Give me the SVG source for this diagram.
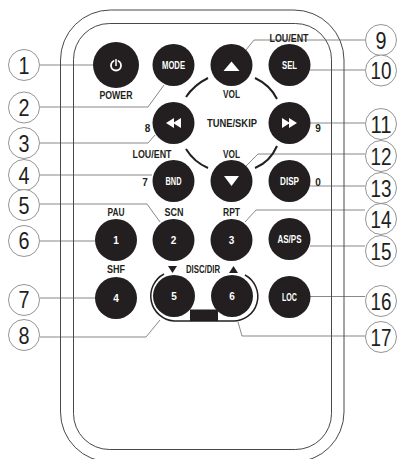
<svg xmlns="http://www.w3.org/2000/svg" width="397" height="459" viewBox="0 0 397 459">
<style>
.b{fill:#231f20}
.w{fill:#fff;font-family:"Liberation Sans",Arial,sans-serif;font-weight:700;font-size:10px;text-anchor:middle}
.t{fill:#231f20;font-family:"Liberation Sans",Arial,sans-serif;font-weight:700;font-size:10px;text-anchor:middle}
.n{fill:#231f20;font-family:"Liberation Sans",Arial,sans-serif;font-size:24px;text-anchor:middle}
.c{fill:#fff;stroke:#666;stroke-width:.7}
.l{fill:none;stroke:#555;stroke-width:.7}
.o{fill:none;stroke:#333;stroke-width:.9}
.a{fill:none;stroke:#231f20;stroke-width:2}
</style>
<g id="body">
<rect class="o" x="60.500" y="10" width="283.500" height="452" rx="50"/>
<rect class="o" x="73.500" y="23.500" width="258" height="426" rx="36"/>
</g>
<g id="connectors">
<path class="l" d="M40 65H93"/>
<path class="l" d="M40 107H148L164 85"/>
<path class="l" d="M40 143H148L155 135"/>
<path class="l" d="M40 175H152"/>
<path class="l" d="M40 204H147L160 222"/>
<path class="l" d="M40 241H95"/>
<path class="l" d="M40 298H95"/>
<path class="l" d="M40 337H146L160 320"/>
<path class="l" d="M365 40H254L246 50"/>
<path class="l" d="M365 70H310"/>
<path class="l" d="M365 123H310"/>
<path class="l" d="M365 154H258L246 166"/>
<path class="l" d="M365 186H310"/>
<path class="l" d="M365 210H256L245 222"/>
<path class="l" d="M365 246H310"/>
<path class="l" d="M365 296.500H310"/>
<path class="l" d="M365 336H242L238 322"/>
</g>
<g id="dpad-arcs">
<path class="a" d="M186 97Q194 85 208 78"/>
<path class="a" d="M255 78Q270 85 277 99"/>
<path class="a" d="M186 149Q194 162 208 168"/>
<path class="a" d="M277 146Q270 162 255 168"/>
</g>
<g id="disc-bar">
<path class="b" d="M190 309.500H218V321H190Z"/>
<path fill="none" stroke="#231f20" stroke-width="1.500" d="M164 274A25 25 0 0 0 174 321H232A24.500 24.500 0 0 0 245 275"/>
</g>
<g id="btn-power"><circle class="b" cx="116" cy="65" r="23"/><circle cx="116" cy="65.500" r="5" fill="none" stroke="#fff" stroke-width="1.800"/><path d="M116 59V66" stroke="#231f20" stroke-width="3.500"/><path d="M116 59V66" stroke="#fff" stroke-width="1.500"/></g>
<g id="btn-mode"><circle class="b" cx="173.500" cy="65" r="21"/><text class="w" x="173.500" y="69" textLength="23" lengthAdjust="spacingAndGlyphs">MODE</text></g>
<g id="btn-up"><circle class="b" cx="231.500" cy="65" r="21"/><path fill="#fff" d="M223.500 71L231.500 61.500L239.500 71Z"/></g>
<g id="btn-sel"><circle class="b" cx="289.500" cy="65" r="21"/><text class="w" x="289.500" y="69" textLength="15" lengthAdjust="spacingAndGlyphs">SEL</text></g>
<g id="btn-rew"><circle class="b" cx="173.500" cy="123" r="21"/><path fill="#fff" d="M174 118V128L166 123ZM181 118V128L173 123Z"/></g>
<g id="btn-ff"><circle class="b" cx="289.500" cy="123" r="21"/><path fill="#fff" d="M282 118V128L290 123ZM289 118V128L297 123Z"/></g>
<g id="btn-bnd"><circle class="b" cx="173.500" cy="181" r="21"/><text class="w" x="173.500" y="185" textLength="16" lengthAdjust="spacingAndGlyphs">BND</text></g>
<g id="btn-down"><circle class="b" cx="231.500" cy="181" r="21"/><path fill="#fff" d="M224 176H239L231.500 186Z"/></g>
<g id="btn-disp"><circle class="b" cx="289.500" cy="181" r="21"/><text class="w" x="289.500" y="185" textLength="19" lengthAdjust="spacingAndGlyphs">DISP</text></g>
<g id="btn-1"><circle class="b" cx="116" cy="240" r="21"/><text class="w" x="116" y="244">1</text></g>
<g id="btn-2"><circle class="b" cx="173.500" cy="240" r="21"/><text class="w" x="173.500" y="244">2</text></g>
<g id="btn-3"><circle class="b" cx="231.500" cy="240" r="21"/><text class="w" x="231.500" y="244">3</text></g>
<g id="btn-asps"><circle class="b" cx="289.500" cy="239" r="21"/><text class="w" x="289.500" y="243" textLength="24" lengthAdjust="spacingAndGlyphs">AS/PS</text></g>
<g id="btn-4"><circle class="b" cx="116" cy="298" r="21"/><text class="w" x="116" y="302">4</text></g>
<g id="btn-5"><circle class="b" cx="174" cy="296" r="21"/><text class="w" x="174" y="300">5</text></g>
<g id="btn-6"><circle class="b" cx="232" cy="296" r="21"/><text class="w" x="232" y="300">6</text></g>
<g id="btn-loc"><circle class="b" cx="289.500" cy="297" r="21"/><text class="w" x="289.500" y="301" textLength="15" lengthAdjust="spacingAndGlyphs">LOC</text></g>
<g id="labels">
<text class="t" x="116" y="99" textLength="33" lengthAdjust="spacingAndGlyphs">POWER</text>
<text class="t" x="147.500" y="132">8</text>
<text class="t" x="152" y="158" textLength="39" lengthAdjust="spacingAndGlyphs">LOU/ENT</text>
<text class="t" x="145" y="186">7</text>
<text class="t" x="174" y="216" textLength="19" lengthAdjust="spacingAndGlyphs">SCN</text>
<text class="t" x="116" y="216" textLength="17" lengthAdjust="spacingAndGlyphs">PAU</text>
<text class="t" x="116" y="273" textLength="18" lengthAdjust="spacingAndGlyphs">SHF</text>
<text class="t" x="289" y="42" textLength="39" lengthAdjust="spacingAndGlyphs">LOU/ENT</text>
<text class="t" x="231.500" y="98" textLength="17" lengthAdjust="spacingAndGlyphs">VOL</text>
<text class="t" x="232" y="127" textLength="50" lengthAdjust="spacingAndGlyphs">TUNE/SKIP</text>
<text class="t" x="318" y="132">9</text>
<text class="t" x="231.500" y="158" textLength="17" lengthAdjust="spacingAndGlyphs">VOL</text>
<text class="t" x="318" y="186">0</text>
<text class="t" x="231.500" y="216" textLength="17" lengthAdjust="spacingAndGlyphs">RPT</text>
<text class="t" x="203" y="273" textLength="34" lengthAdjust="spacingAndGlyphs">DISC/DIR</text>
<path class="b" d="M168 266H177L172.500 273Z"/>
<path class="b" d="M229 273H238L233.500 266Z"/>
</g>
<g id="callouts">
<g id="c1"><circle class="c" cx="24" cy="65" r="15.500"/><text class="n" x="24" y="74" textLength="11" lengthAdjust="spacingAndGlyphs">1</text></g>
<g id="c2"><circle class="c" cx="24" cy="107.500" r="15.500"/><text class="n" x="24" y="116" textLength="11" lengthAdjust="spacingAndGlyphs">2</text></g>
<g id="c3"><circle class="c" cx="24" cy="143" r="15.500"/><text class="n" x="24" y="152" textLength="11" lengthAdjust="spacingAndGlyphs">3</text></g>
<g id="c4"><circle class="c" cx="24" cy="175" r="15.500"/><text class="n" x="24" y="184" textLength="11" lengthAdjust="spacingAndGlyphs">4</text></g>
<g id="c5"><circle class="c" cx="24" cy="205" r="15.500"/><text class="n" x="24" y="214" textLength="11" lengthAdjust="spacingAndGlyphs">5</text></g>
<g id="c6"><circle class="c" cx="24" cy="241" r="15.500"/><text class="n" x="24" y="249" textLength="11" lengthAdjust="spacingAndGlyphs">6</text></g>
<g id="c7"><circle class="c" cx="24" cy="300" r="15.500"/><text class="n" x="24" y="308" textLength="11" lengthAdjust="spacingAndGlyphs">7</text></g>
<g id="c8"><circle class="c" cx="24" cy="335" r="15.500"/><text class="n" x="24" y="344" textLength="11" lengthAdjust="spacingAndGlyphs">8</text></g>
<g id="c9"><circle class="c" cx="381" cy="40" r="15.500"/><text class="n" x="381" y="49" textLength="11" lengthAdjust="spacingAndGlyphs">9</text></g>
<g id="c10"><circle class="c" cx="381" cy="70.500" r="15.500"/><text class="n" x="381" y="79" textLength="21" lengthAdjust="spacingAndGlyphs">10</text></g>
<g id="c11"><circle class="c" cx="381" cy="124" r="15.500"/><text class="n" x="381" y="133" textLength="21" lengthAdjust="spacingAndGlyphs">11</text></g>
<g id="c12"><circle class="c" cx="381" cy="156" r="15.500"/><text class="n" x="381" y="165" textLength="21" lengthAdjust="spacingAndGlyphs">12</text></g>
<g id="c13"><circle class="c" cx="381" cy="188" r="15.500"/><text class="n" x="381" y="197" textLength="21" lengthAdjust="spacingAndGlyphs">13</text></g>
<g id="c14"><circle class="c" cx="381" cy="219" r="15.500"/><text class="n" x="381" y="228" textLength="21" lengthAdjust="spacingAndGlyphs">14</text></g>
<g id="c15"><circle class="c" cx="381" cy="251" r="15.500"/><text class="n" x="381" y="260" textLength="21" lengthAdjust="spacingAndGlyphs">15</text></g>
<g id="c16"><circle class="c" cx="381" cy="301" r="15.500"/><text class="n" x="381" y="310" textLength="21" lengthAdjust="spacingAndGlyphs">16</text></g>
<g id="c17"><circle class="c" cx="381" cy="337" r="15.500"/><text class="n" x="381" y="346" textLength="21" lengthAdjust="spacingAndGlyphs">17</text></g>
</g>
</svg>
